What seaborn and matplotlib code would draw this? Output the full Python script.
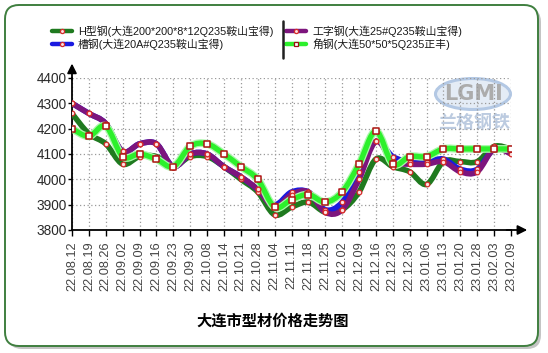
import numpy as np
import pandas as pd
import matplotlib
matplotlib.use("Agg")
import matplotlib.pyplot as plt
import seaborn as sns
from matplotlib.path import Path
from matplotlib.patches import PathPatch, FancyBboxPatch, Ellipse
from matplotlib.lines import Line2D
from matplotlib.transforms import IdentityTransform

# ---------------- data ----------------
dates = ["22.08.12", "22.08.19", "22.08.26", "22.09.02", "22.09.09", "22.09.16",
         "22.09.23", "22.09.30", "22.10.08", "22.10.14", "22.10.21", "22.10.28",
         "22.11.04", "22.11.11", "22.11.18", "22.11.25", "22.12.02", "22.12.09",
         "22.12.16", "22.12.23", "22.12.30", "23.01.06", "23.01.13", "23.01.20",
         "23.01.28", "23.02.03", "23.02.09"]

h_beam = [4260, 4180, 4140, 4060, 4090, 4090, 4050, 4090, 4090, 4050, 4000, 3950,
          3860, 3890, 3910, 3870, 3880, 3950, 4080, 4050, 4030, 3980, 4070, 4070,
          4070, 4130, 4120]
i_beam = [4300, 4260, 4220, 4110, 4140, 4140, 4050, 4100, 4100, 4050, 4010, 3960,
          3890, 3940, 3950, 3870, 3880, 4000, 4150, 4070, 4060, 4060, 4070, 4030,
          4030, 4120, 4100]
channel = [4300, 4260, 4220, 4110, 4140, 4140, 4050, 4100, 4100, 4050, 4010, 3960,
           3900, 3950, 3950, 3880, 3910, 4030, 4150, 4090, 4070, 4070, 4080, 4040,
           4040, 4120, 4110]
angle = [4200, 4170, 4210, 4090, 4100, 4080, 4050, 4130, 4140, 4100, 4050, 4000,
         3890, 3920, 3940, 3910, 3950, 4060, 4190, 4060, 4090, 4090, 4120, 4120,
         4120, 4120, 4120]

series_labels = ["H型钢(大连200*200*8*12Q235鞍山宝得)",
                 "工字钢(大连25#Q235鞍山宝得)",
                 "槽钢(大连20A#Q235鞍山宝得)",
                 "角钢(大连50*50*5Q235正丰)"]
y_ticks = [3800, 3900, 4000, 4100, 4200, 4300, 4400]
title = "大连市型材价格走势图"

# ---------------- style ----------------
sns.set_theme(style="white")
plt.rcParams["font.family"] = ["Liberation Sans", "Noto Sans CJK SC", "DejaVu Sans"]

W, H = 548, 353
fig = plt.figure(figsize=(W / 100, H / 100), dpi=100)
fig.patch.set_facecolor("white")

# rounded frame with shadow (pixel coords, origin bottom-left)
shadow = FancyBboxPatch((8, H - 349), 533, 341, boxstyle="round,pad=0,rounding_size=14",
                        transform=IdentityTransform(), fc="#c4c4c4", ec="none", zorder=-3)
frame = FancyBboxPatch((5, H - 346), 533, 341, boxstyle="round,pad=0,rounding_size=14",
                       transform=IdentityTransform(), fc="white", ec="#3f7f3f", lw=1.4, zorder=-2)
fig.add_artist(shadow)
fig.add_artist(frame)

x0, x1, ytop, ybot = 72, 511, 78, 230
ax = fig.add_axes([x0 / W, 1 - ybot / H, (x1 - x0) / W, (ybot - ytop) / H])
ax.set_facecolor("none")
ax.set_zorder(1)

colors = {"h": "#1f7a1f", "i": "#7d157d", "c": "#1a1ae0", "a": "#2cf02c"}


def smooth_path(xs, ys):
    pts = np.column_stack([xs, ys]).astype(float)
    n = len(pts)
    verts = [pts[0]]
    codes = [Path.MOVETO]
    for k in range(n - 1):
        p0 = pts[k - 1] if k > 0 else pts[k]
        p1, p2 = pts[k], pts[k + 1]
        p3 = pts[k + 2] if k + 2 < n else pts[k + 1]
        verts += [p1 + (p2 - p0) / 6, p2 - (p3 - p1) / 6, p2]
        codes += [Path.CURVE4] * 3
    return Path(verts, codes)


idx = np.arange(len(dates))
df = pd.DataFrame({"idx": np.tile(idx, 4),
                   "price": h_beam + channel + i_beam + angle,
                   "series": np.repeat(["h", "c", "i", "a"], len(dates))})

# lines (drawing order: H, channel, I-beam, angle)
for key, vals in [("h", h_beam), ("c", channel), ("i", i_beam)]:
    ax.add_patch(PathPatch(smooth_path(idx, vals), fill=False, ec=colors[key], lw=4.0,
                           capstyle="round", joinstyle="round", zorder=3))
ax.add_patch(PathPatch(smooth_path(idx, angle), fill=False, ec="#a8f8a8", lw=5.6,
                       capstyle="round", joinstyle="round", zorder=3.9))
ax.add_patch(PathPatch(smooth_path(idx, angle), fill=False, ec=colors["a"], lw=3.8,
                       capstyle="round", joinstyle="round", zorder=4))

# markers
circ = df[df["series"] != "a"]
sns.scatterplot(data=circ, x="idx", y="price", marker="o", s=11, color="#fbe3e3",
                edgecolor="#d52a2a", linewidth=0.9, ax=ax, zorder=5, legend=False)
sq = df[df["series"] == "a"]
sns.scatterplot(data=sq, x="idx", y="price", marker="s", s=20, color="white",
                edgecolor="#b01414", linewidth=1.1, ax=ax, zorder=6, legend=False)

ax.set_xlim(0, len(dates) - 1)
ax.set_ylim(3800, 4400)
ax.set_xticks(idx)
ax.set_xticklabels(dates, rotation=90, fontsize=9.2, color="#444444")
ax.set_yticks(y_ticks)
ax.set_yticklabels([str(v) for v in y_ticks], fontsize=9.8, color="#2a2a2a")
ax.set_xlabel("")
ax.set_ylabel("")
ax.grid(True, linestyle=(0, (1, 2)), color="#9a9a9a", lw=0.9)
ax.tick_params(axis="x", length=4, width=1, color="black", pad=4, direction="out", bottom=True)
ax.tick_params(axis="y", length=3, width=1, color="black", pad=1, direction="out", left=True)
for s in ["top", "right"]:
    ax.spines[s].set_visible(False)
for s in ["left", "bottom"]:
    ax.spines[s].set_color("black")
    ax.spines[s].set_linewidth(1.3)

# axis arrows
ax.annotate("", xy=(1.037, 0), xytext=(0.99, 0), xycoords="axes fraction",
            arrowprops=dict(arrowstyle="-|>", color="black", lw=1.3, mutation_scale=14,
                            shrinkA=0, shrinkB=0), annotation_clip=False)
ax.annotate("", xy=(0, 1.095), xytext=(0, 0.99), xycoords="axes fraction",
            arrowprops=dict(arrowstyle="-|>", color="black", lw=1.3, mutation_scale=14,
                            shrinkA=0, shrinkB=0), annotation_clip=False)

# ---------------- legend (manual) ----------------
legend_items = [
    (52, 31, colors["h"], "o", series_labels[0]),
    (52, 44, colors["c"], "o", series_labels[2]),
    (286, 31, colors["i"], "o", series_labels[1]),
    (286, 44, colors["a"], "s", series_labels[3]),
]
for lx, ly, col, mk, lab in legend_items:
    yy = 1 - ly / H
    fig.add_artist(Line2D([lx / W, (lx + 20) / W], [yy, yy], transform=fig.transFigure,
                          color=col, lw=3.2))
    if mk == "o":
        fig.add_artist(Line2D([(lx + 10) / W], [yy], transform=fig.transFigure, marker="o",
                              ms=3.0, mfc="#fbe3e3", mec="#d52a2a", mew=0.9, lw=0))
    else:
        fig.add_artist(Line2D([(lx + 10) / W], [yy], transform=fig.transFigure, marker="s",
                              ms=3.4, mfc="white", mec="#9a1010", mew=0.9, lw=0))
    fig.text((lx + 26) / W, yy, lab, fontsize=7.8, color="#1a1a1a", va="center", ha="left")

fig.add_artist(Line2D([283 / W, 283 / W], [1 - 21 / H, 1 - 58 / H], transform=fig.transFigure,
                      color="#202020", lw=1.8))

# ---------------- watermark logo ----------------
fig.add_artist(Ellipse((473 / W, 1 - 94 / H), 75 / W, 31 / H, transform=fig.transFigure,
                       fc="#e4ecf6", ec="#b3c8e4", lw=2.2, zorder=-1))
fig.text(473 / W, 1 - 94 / H, "LGMI", fontsize=15, color="#acacac", weight="bold",
         ha="center", va="center", family="DejaVu Sans", zorder=-0.5)
fig.text(474 / W, 1 - 123 / H, "兰格钢铁", fontsize=13, color="#bccbe0", weight="bold",
         ha="center", va="center", family="Noto Sans CJK SC", zorder=-0.5, style="italic")

# ---------------- title ----------------
fig.text(273 / W, 1 - 321 / H, title, fontsize=11, weight="bold", color="black",
         ha="center", va="center", family="Noto Sans CJK SC")

fig.savefig("out.png", dpi=100)
